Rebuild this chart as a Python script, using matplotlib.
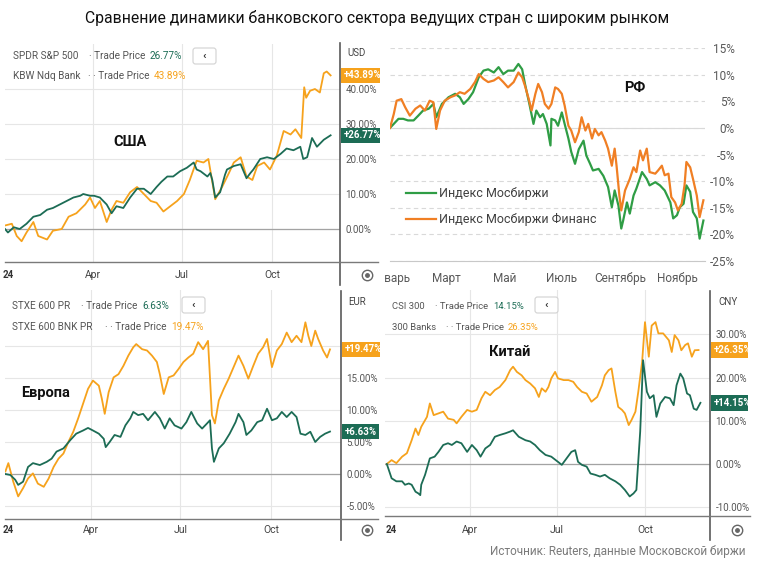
import numpy as np
import matplotlib.pyplot as plt
from matplotlib.patches import Rectangle, FancyBboxPatch

plt.rcParams['font.family'] = ['Roboto', 'DejaVu Sans']

W, H = 758, 561

# x = day of 2024 (0 = 1 Jan), y = % change since start of year
# США
us_days_sp = [1,4,10,16,23,30,37,44,50,57,64,71,78,81,88,92,98,105,110,115,
              122,129,136,143,150,156,161,167,173,180,187,194,197,201,208,211,213,216,221,226,
              228,235,242,248,252,255,262,269,276,283,289,296,303,306,310,315,320,327,334]
us_sp = [0,-1,0.5,0,1.5,3.5,4,5.5,6,7,8,9,9.5,10,9.5,9.5,9,7,4.5,6.5,
         6,9,11.5,11.5,10,12,13.5,15,15,16.5,17.5,19,17,16.5,15,16,14,9,10.5,15.5,
         17,18,18.5,14.5,16,17,20,20.5,20,21.5,23,22.5,23.5,20,20.5,26,23.5,25.5,26.77]
us_days_bank = [1,8,13,18,23,30,35,44,50,59,66,74,83,88,93,98,105,110,115,122,
                129,136,143,150,156,163,170,177,184,190,197,204,209,216,223,230,235,242,248,254,
                259,266,272,279,286,293,298,304,307,309,313,318,323,327,330,334]
us_bank = [1,1.5,-2,-3.5,-1,2,-2,-3,-0.5,0,3.5,4.5,7,9,6,8,2,5.5,8,7.5,
           10.5,12,10,8,7.5,5,6.5,8,10,14,19.5,19,20,8.5,12,16,19,20.5,15,14,
           18,19,17,21,28,27,28.5,26,40.5,37.5,39.5,40,39,44.5,45,43.89]

# Европа
eu_days_600 = [4,9,14,17,22,27,32,39,46,51,56,63,70,76,83,88,93,99,104,106,
               110,115,121,126,131,134,139,144,149,156,161,166,171,176,183,188,193,199,204,209,
               212,214,216,221,226,232,238,241,246,249,254,260,265,270,275,280,285,290,295,300,
               304,309,314,319,324,329,334]
eu_600 = [0,-0.15,-0.9,-1.7,-1.2,1.1,1.7,1.4,1.9,2.4,3.5,4,5.3,6.3,6.8,7.2,6.8,6.3,5.5,4.2,
          5,6.1,5.8,7.6,8.7,9.7,9.2,9.4,8.4,9.7,8.7,7.1,8.7,7.6,7.1,8.1,9.7,7.9,7.1,7.9,
          8.4,4,1.9,4,4.8,6.3,8.1,9.4,8.1,6.1,6.8,8.1,8.4,10.2,8.4,8.7,9.7,8.9,9.7,8.9,
          6.3,6.1,6.6,5,5.8,6.3,6.63]
eu_days_bnk = [4,7,12,17,22,27,32,37,43,48,53,58,63,68,73,78,83,88,93,99,
               102,105,109,114,119,124,129,134,137,143,148,153,158,161,165,170,175,180,185,190,
               195,200,205,210,214,217,221,226,231,236,241,246,251,256,261,266,270,275,280,285,
               290,295,300,305,309,312,315,319,322,327,331,334]
eu_bnk = [0.4,1.7,-1.2,-3.5,-2.2,-0.7,0.1,-1.5,-2,-0.7,1.1,2.4,3.2,5,6.6,8.7,11,13.3,14.6,13.8,
          11.8,9.4,12.8,15.1,15.6,16.9,18.5,19.8,20.3,19.5,19.3,18.5,17.5,15.6,12.5,15.1,15.4,16.4,17.5,18.2,
          18.8,20.6,19.5,20.8,9.2,7.9,11.5,13.3,14.9,16.7,18.5,16.9,14.9,16.9,18.8,19.8,21.1,16.7,19.3,20.3,
          22.1,20.6,21.6,20.6,23.7,21.6,20,22.4,21.1,19.3,18.2,19.47]

# Китай
cn_days_csi = [4,9,14,20,23,27,30,34,37,39,40,44,49,54,58,63,68,72,77,82,
               88,93,98,102,107,112,117,122,128,133,136,142,149,154,159,164,170,176,183,187,
               192,197,201,204,208,213,217,222,227,232,237,243,248,253,258,262,265,269,272,276,
               279,283,286,290,295,300,304,307,311,314,318,321,325,328,332]
cn_csi = [0,-3.3,-4,-4,-4.8,-4.5,-4.8,-6.4,-6.8,-7.2,-4.8,-2.5,1.3,1.7,2.8,4.4,4.8,4.4,5.2,4.8,
          2.8,4.4,3.2,1.7,3.6,4.4,6.3,6.7,7.1,7.5,7.8,6.3,5.5,5.2,4.4,3.2,2.1,1.7,0.5,-0.2,
          1.3,2.8,3.2,0.5,-0.2,-0.6,-2.2,-2.5,-2.9,-2.5,-3.3,-4,-4.8,-6,-7.5,-6.8,-6,7.5,24,16.7,
          15.2,15.9,10.9,14,15.5,15.2,13.6,18.2,20.9,19.8,16.3,15.9,12.8,12.5,14.15]
cn_days_bank = [4,9,14,20,25,30,34,37,40,46,49,53,58,63,68,74,77,82,88,93,
                98,103,107,112,117,122,128,133,136,140,145,149,154,159,163,166,170,173,176,180,
                183,189,194,199,203,208,213,218,224,229,232,236,239,243,246,250,253,257,260,264,
                267,271,274,278,281,285,288,293,299,302,305,309,312,316,319,323,326,330]
cn_bank = [0,0.9,0.2,1.7,2.5,5.5,8.2,6.7,8.6,10.9,14,11.3,11.7,12.1,10.5,10.2,9.4,10.9,12.5,12.1,
           12.5,15.2,16.7,15.9,17.1,17.8,19.4,21.7,22.5,21.3,20.5,19.4,18.6,17.5,15.5,17.5,16.7,17.8,19.8,21.3,
           19.8,19.4,19.4,19,17.8,16.7,16.3,14.4,15.5,18.2,20.5,21.7,22.1,16.7,13.2,12.5,11.7,9,10.2,12.1,
           16.7,23.6,32.8,24.8,32,32.8,30.2,30.2,28.6,25.9,29.8,28.6,26.3,27.5,27.9,24.8,26.3,26.35]

# РФ
ru_days_imoex = [0,4,9,14,19,25,30,35,41,46,49,55,62,69,74,78,83,88,94,99,
                 104,110,115,120,125,131,136,140,143,148,152,155,159,162,166,170,171,175,178,182,
                 185,189,192,196,200,205,208,212,215,221,226,231,235,238,242,245,247,251,254,258,
                 261,267,272,275,281,286,291,297,300,304,307,311,314,318,321,325,328,332]
ru_imoex = [0,0.75,1.7,1.7,1.4,1.4,2.3,3.25,3.6,4.5,2,4.5,5.75,6.4,5.75,4.5,5.4,6.7,9.5,10.75,
            11,10.4,11.4,10.1,10.75,10.75,12,11,8.25,4.2,0.75,3.25,2,2.6,0.75,-3.3,1.7,1.4,0.4,2.9,
            0.75,-2,-4.5,-6.75,-4,-2.4,-5.2,-6.75,-8,-7.7,-9,-11.1,-14.9,-11.75,-14.6,-18.9,-17.4,-14,-16.1,-12.7,
            -11.4,-8.3,-9.6,-10.8,-10.2,-10.8,-11.75,-14,-17,-16.4,-14.9,-14.25,-10.8,-12,-15.8,-17,-20.8,-17.4]
ru_days_fin = [0,4,7,12,16,21,27,32,37,42,46,49,53,58,64,69,74,79,85,90,
               94,99,104,110,115,120,125,131,136,140,143,147,150,154,157,161,164,168,171,175,
               178,182,185,189,192,196,200,203,207,210,214,217,221,224,228,231,235,238,240,243,
               245,249,254,258,261,265,268,272,275,281,284,288,291,295,298,302,305,309,312,314,
               318,321,325,328,332]
ru_fin = [0,2.6,5.1,5.4,3.9,2.3,3.6,4.2,3.25,5.1,4.8,-0.2,3.25,5.1,5.75,6.1,6.7,6.4,7.3,8.6,
          10.1,9.2,8.6,8.9,9.5,8.6,7.6,8.6,10.4,9.5,7.9,5.4,3.25,6.4,8.25,6.7,4.5,3.6,4.5,7.6,
          7.3,6.4,4.2,0.4,-0.5,-2.7,-0.8,2,-0.5,0.75,-2,-0.2,-1.4,-0.8,-2.4,-3.9,-7.1,-3.9,-7.1,-12.7,
          -15.5,-11.75,-9.6,-7.4,-8.3,-4.25,-6.1,-3.9,-8.3,-8.6,-8,-7.1,-8.9,-8.6,-13,-14,-15.5,-14.25,-10.8,-6.4,
          -7.4,-9.6,-12.7,-16.75,-13.6]

reuters_months = [91, 182, 274]
reuters_month_labels = ['Apr', 'Jul', 'Oct']
ru_months = [0, 60, 121, 182, 244, 305]
ru_month_labels = ['Январь', 'Март', 'Май', 'Июль', 'Сентябрь', 'Ноябрь']

GREEN = '#1c6c55'
ORANGE = '#f6a21c'
RU_GREEN = '#2f9d45'
RU_ORANGE = '#f07f24'

fig = plt.figure(figsize=(W / 100, H / 100), dpi=100)


def px_axes(x0, y0, x1, y1):
    return fig.add_axes([x0 / W, 1 - y1 / H, (x1 - x0) / W, (y1 - y0) / H])


def clip_px(artist, x0, y0, x1, y1):
    r = Rectangle((x0 / W, 1 - y1 / H), (x1 - x0) / W, (y1 - y0) / H,
                  transform=fig.transFigure)
    artist.set_clip_on(True)
    artist.set_clip_path(r)


def reuters(rect, xlim, ylim, yticks, ylabels, green, orange, xpad, clip):
    ax = px_axes(*rect)
    ax.plot(orange[0], orange[1], color=ORANGE, lw=1.3, zorder=3)
    ax.plot(green[0], green[1], color=GREEN, lw=1.3, zorder=4)
    ax.set_xlim(*xlim)
    ax.set_ylim(*ylim)
    ax.set_xticks(reuters_months, reuters_month_labels)
    ax.set_yticks(yticks, ylabels)
    ax.yaxis.tick_right()
    ax.tick_params(length=0, labelsize=7, labelcolor='#555555')
    ax.tick_params(axis='y', pad=4)
    ax.tick_params(axis='x', pad=xpad, labelsize=7.5, labelcolor='#444444')
    ax.grid(True, color='#e6e6e6', lw=0.8)
    ax.set_axisbelow(True)
    ax.axhline(0, color='#a3a3a3', lw=0.9, zorder=2)
    for s in ax.spines.values():
        s.set_visible(False)
    for vals, col in [(orange[1], ORANGE), (green[1], GREEN)]:
        last = vals[-1]
        t = ax.annotate(f'+{last:.2f}%', xy=(1, last), xycoords=('axes fraction', 'data'),
                        xytext=(2.5, 0), textcoords='offset points', ha='left', va='center',
                        fontsize=7, fontweight='bold', color='white',
                        bbox=dict(boxstyle='square,pad=0.28', fc=col, ec='none'),
                        annotation_clip=False)
        clip_px(t, *clip)
    return ax


reuters((5, 44, 340, 262), (1.0, 343.6), (-9.43, 52.86), [0, 10, 20, 30, 40],
        ['0.00%', '10.00%', '20.00%', '30.00%', '40.00%'],
        (us_days_sp, us_sp), (us_days_bank, us_bank), 6, (0, 40, 380, 290))
reuters((5, 290, 341, 519), (3.6, 345.2), (-7.03, 28.75), [-5, 0, 5, 10, 15, 20],
        ['-5.00%', '0.00%', '5.00%', '10.00%', '15.00%', ''],
        (eu_days_600, eu_600), (eu_days_bnk, eu_bnk), 4.5, (0, 290, 380, 545))
reuters((385, 290, 710, 516), (2.1, 342.0), (-12.02, 40.23), [-10, 0, 10, 20, 30],
        ['-10.00%', '0.00%', '10.00%', '20.00%', '30.00%'],
        (cn_days_csi, cn_csi), (cn_days_bank, cn_bank), 6.5, (385, 290, 748, 545))

# Russia panel (Excel style)
ax_ru = px_axes(390, 48, 705, 261)
ax_ru.plot(ru_days_imoex, ru_imoex, color=RU_GREEN, lw=1.6, label='Индекс Мосбиржи')
ax_ru.plot(ru_days_fin, ru_fin, color=RU_ORANGE, lw=1.6, label='Индекс Мосбиржи Финанс')
ax_ru.set_xlim(0, 333.7)
ax_ru.set_ylim(-25, 15)
ru_yt = list(range(-25, 16, 5))
ax_ru.set_yticks(ru_yt, [f'{v}%' for v in ru_yt])
ax_ru.yaxis.tick_right()
ax_ru.tick_params(axis='y', length=0, pad=21.5, labelsize=8.5, labelcolor='#595959')
for tk in ax_ru.yaxis.get_major_ticks():
    tk.label2.set_horizontalalignment('right')
ax_ru.set_xticks([])
ax_ru.yaxis.grid(True, color='#d9d9d9', lw=0.8, ls=(0, (4, 3)))
ax_ru.set_axisbelow(True)
ax_ru.axhline(0, color='#d9d9d9', lw=0.8, zorder=1)
for k in ['top', 'left', 'right']:
    ax_ru.spines[k].set_visible(False)
ax_ru.spines['bottom'].set_color('#c8c8c8')
for d, name in zip(ru_months, ru_month_labels):
    t = ax_ru.text(d, -0.08, name, transform=ax_ru.get_xaxis_transform(), ha='center',
                   va='center', fontsize=8.5, color='#595959')
    clip_px(t, 384, 0, W, H)
ax_ru.legend(loc='upper left', bbox_to_anchor=(406 / W, 1 - 187 / H), bbox_transform=fig.transFigure,
             frameon=False, fontsize=9, handlelength=2.4, handletextpad=0.25, labelspacing=1.05,
             borderpad=0, borderaxespad=0, labelcolor='#404040')

# overlay in pixel coordinates for titles, headers and frame bits
ov = fig.add_axes([0, 0, 1, 1])
ov.set_xlim(0, W)
ov.set_ylim(H, 0)
ov.axis('off')

ov.text(377, 18, 'Сравнение динамики банковского сектора ведущих стран с широким рынком',
        ha='center', va='center', fontsize=11.3, color='#111111')
ov.text(745, 551, 'Источник: Reuters, данные Московской биржи', ha='right', va='center',
        fontsize=8.5, color='#7a7a7a')

headers = [
    # name, separator, value, colour, x name, x value, y, font size
    ('SPDR S&P 500', '·', '26.77%', GREEN, 12.7, 150, 56, 7.2),
    ('KBW Ndq Bank', '· ·', '43.89%', ORANGE, 12.7, 154, 76, 7.2),
    ('STXE 600 PR', '·', '6.63%', GREEN, 12, 142, 306, 7.2),
    ('STXE 600 BNK PR', '· ·', '19.47%', ORANGE, 12, 171, 327, 7.2),
    ('CSI 300', '·', '14.15%', GREEN, 392, 493, 306, 6.8),
    ('300 Banks', '· ·', '26.35%', ORANGE, 392, 508, 327, 6.8),
]
for name, sep, val, col, xn, xv, y, fs in headers:
    ov.text(xn, y, name, ha='left', va='center', fontsize=fs, color='#555555')
    ov.text(xv - 4.5, y, f'{sep} Trade Price', ha='right', va='center', fontsize=fs,
            color='#555555')
    ov.text(xv, y, val, ha='left', va='center', fontsize=fs, color=col)

for bx, by in [(193, 48), (182, 297), (535, 297)]:
    ov.add_patch(FancyBboxPatch((bx, by), 23, 16, boxstyle='round,pad=0,rounding_size=2.5',
                                fc='white', ec='#d2d2d2', lw=0.8))
    ov.text(bx + 11.5, by + 8, '‹', ha='center', va='center', fontsize=8, fontweight='bold',
            color='#333333')

for cx, cy, cur in [(347, 53, 'USD'), (348, 302, 'EUR'), (718, 302, 'CNY')]:
    ov.text(cx, cy, cur, ha='left', va='center', fontsize=7, color='#444444')

# right price-axis lines and bottom time-axis lines
ov.plot([340, 340], [43, 285], color='#5a5a5a', lw=1.2)
ov.plot([341, 341], [291, 540], color='#5a5a5a', lw=1.2)
ov.plot([710, 710], [291, 540], color='#5a5a5a', lw=1.2)
ov.plot([5, 378], [262, 262], color='#7a7a7a', lw=1.0)
ov.plot([5, 378], [519, 519], color='#7a7a7a', lw=1.0)
ov.plot([385, 750], [516, 516], color='#7a7a7a', lw=1.0)

# the year label is cut to its last two digits in the source screenshots
for x, y in [(3, 275), (3, 530), (386, 530)]:
    ov.text(x, y, '24', ha='left', va='center', fontsize=7, fontweight='bold', color='#333333')

for gx, gy in [(367, 275), (367, 530), (737, 530)]:
    ov.plot(gx, gy, 'o', ms=7.5, mfc='none', mec='#666666', mew=1.0)
    ov.plot(gx, gy, 'o', ms=2.5, mfc='#666666', mec='#666666')

for x, y, lab in [(130, 142, 'США'), (635, 88, 'РФ'), (46, 393, 'Европа'), (510, 352, 'Китай')]:
    ov.text(x, y, lab, ha='center', va='center', fontsize=10.5, fontweight='bold', color='#111111')

fig.savefig('out.png', dpi=100)
